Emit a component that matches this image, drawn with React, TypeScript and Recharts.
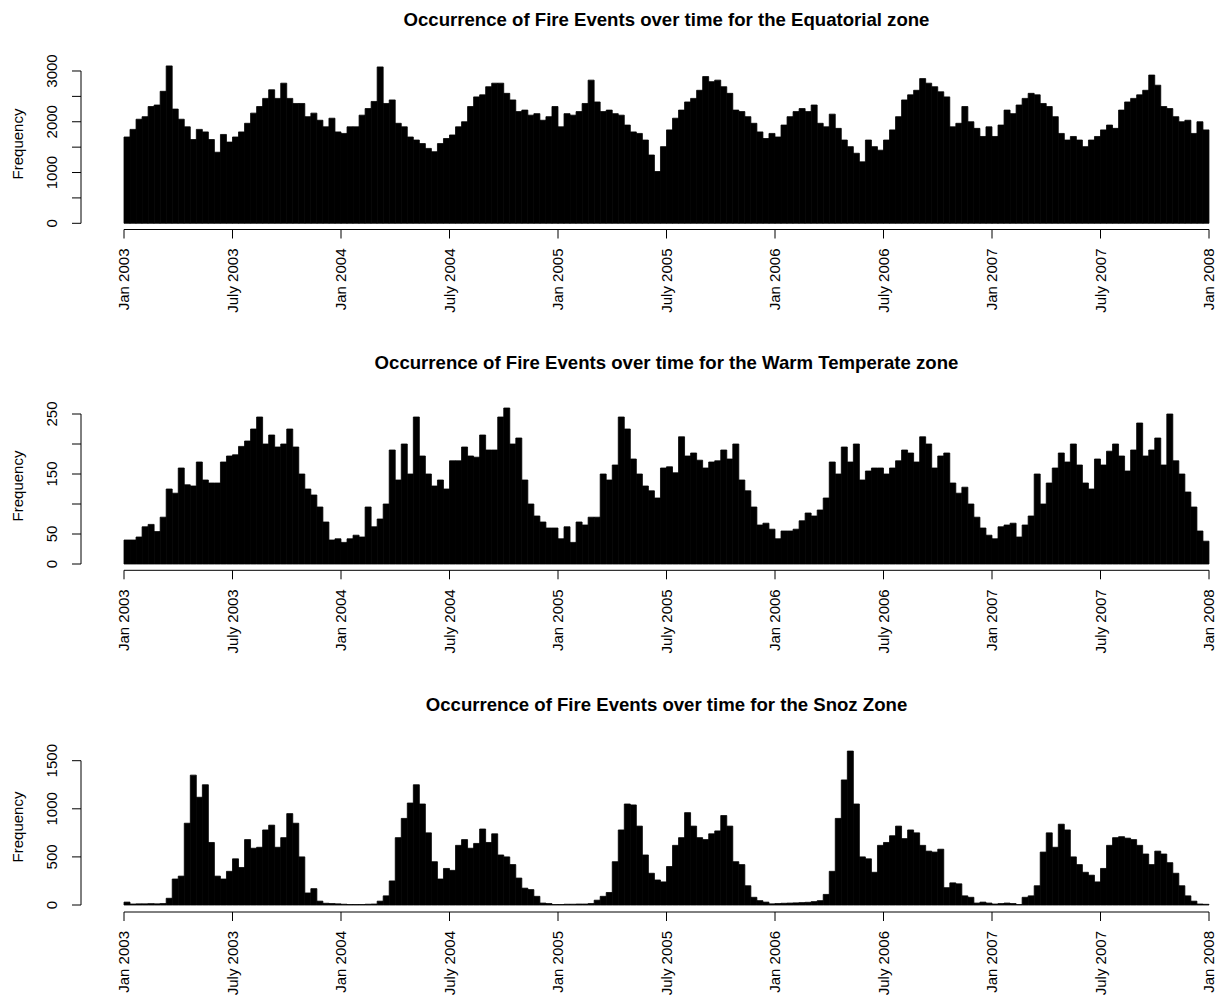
import { BarChart, Bar, XAxis, YAxis } from "recharts";

// 10-day bins, Jan 2003 .. Dec 2007 (36 per year, 180 per zone)
const X_TICK_MONTHS = [0, 6, 12, 18, 24, 30, 36, 42, 48, 54, 60];
const X_TICK_LABELS = ["Jan 2003", "July 2003", "Jan 2004", "July 2004", "Jan 2005", "July 2005",
  "Jan 2006", "July 2006", "Jan 2007", "July 2007", "Jan 2008"];

const EQUATORIAL = [
  1700, 1850, 2050, 2100, 2300, 2330, 2600, 3100, 2250, 2050, 1900, 1650, 1850, 1800, 1650, 1400, 1750, 1600,
  1700, 1800, 1970, 2170, 2300, 2460, 2630, 2460, 2760, 2460, 2360, 2360, 2100, 2170, 2030, 1900, 2070, 1800,
  1770, 1900, 1900, 2130, 2260, 2400, 3080, 2360, 2430, 1970, 1900, 1700, 1640, 1570, 1475, 1410, 1570, 1670,
  1740, 1900, 2000, 2300, 2490, 2530, 2690, 2760, 2760, 2560, 2430, 2200, 2230, 2130, 2160, 2030, 2100, 2300,
  1900, 2160, 2130, 2200, 2360, 2820, 2390, 2200, 2230, 2160, 2130, 1935, 1800, 1770, 1640, 1345, 1020, 1510,
  1840, 2070, 2230, 2390, 2460, 2620, 2890, 2790, 2820, 2690, 2560, 2230, 2200, 2100, 1970, 1800, 1670, 1770,
  1700, 1935, 2100, 2200, 2260, 2200, 2330, 1970, 1900, 2150, 1870, 1640, 1510, 1380, 1210, 1640, 1510, 1440,
  1640, 1840, 2100, 2430, 2530, 2620, 2850, 2760, 2690, 2590, 2490, 1900, 1970, 2300, 2000, 1870, 1710, 1900,
  1710, 1935, 2230, 2160, 2330, 2460, 2560, 2530, 2360, 2300, 2100, 1770, 1640, 1710, 1640, 1510, 1640, 1710,
  1840, 1935, 1870, 2230, 2390, 2460, 2530, 2620, 2920, 2720, 2300, 2260, 2100, 2000, 2030, 1770, 2000, 1840,
];

const WARM_TEMPERATE = [
  40, 40, 45, 62, 66, 54, 78, 125, 118, 160, 132, 130, 170, 140, 135, 135, 170, 180,
  182, 196, 205, 225, 245, 200, 215, 195, 200, 225, 195, 150, 125, 115, 95, 70, 40, 42,
  36, 42, 48, 45, 95, 62, 75, 100, 190, 140, 200, 150, 245, 180, 150, 130, 140, 125,
  172, 172, 195, 180, 178, 215, 190, 190, 245, 260, 200, 210, 140, 100, 80, 70, 60, 60,
  42, 62, 36, 70, 65, 78, 78, 150, 140, 165, 245, 225, 175, 150, 130, 122, 110, 160,
  162, 152, 212, 180, 185, 173, 160, 170, 172, 190, 175, 200, 140, 122, 95, 65, 68, 58,
  42, 55, 55, 58, 72, 85, 80, 90, 110, 170, 150, 195, 170, 200, 140, 155, 160, 160,
  150, 160, 172, 190, 185, 170, 212, 200, 160, 180, 185, 135, 118, 128, 100, 78, 60, 48,
  42, 62, 65, 68, 45, 65, 80, 150, 100, 135, 160, 185, 170, 200, 165, 135, 125, 175,
  165, 188, 200, 180, 155, 190, 235, 180, 190, 210, 165, 250, 172, 150, 120, 95, 55, 38,
];

const SNOZ = [
  30, 10, 12, 12, 14, 12, 15, 70, 270, 300, 850, 1350, 1120, 1250, 650, 300, 270, 350,
  480, 390, 680, 590, 600, 780, 830, 600, 700, 950, 850, 500, 125, 170, 40, 18, 15, 12,
  8, 5, 5, 5, 8, 10, 40, 95, 250, 700, 900, 1060, 1250, 1050, 750, 450, 270, 380,
  360, 620, 680, 590, 640, 790, 650, 740, 520, 500, 420, 280, 175, 160, 90, 20, 15, 5,
  5, 8, 8, 10, 10, 15, 50, 90, 130, 450, 780, 1050, 1040, 820, 520, 330, 260, 240,
  400, 620, 700, 960, 820, 700, 680, 740, 770, 930, 820, 450, 420, 200, 80, 45, 30, 12,
  15, 18, 20, 22, 25, 28, 35, 45, 110, 350, 900, 1300, 1600, 1050, 500, 480, 340, 620,
  650, 720, 820, 690, 780, 750, 620, 560, 550, 580, 180, 230, 220, 95, 80, 20, 30, 20,
  10, 15, 20, 15, 5, 80, 95, 200, 550, 750, 600, 840, 780, 500, 420, 340, 310, 240,
  380, 620, 700, 710, 695, 680, 620, 530, 420, 560, 530, 440, 330, 200, 95, 40, 10, 7,
];

const EQ_TICKS = [0, 500, 1000, 1500, 2000, 2500, 3000];
const EQ_LABELS = [0, 1000, 2000, 3000];
const WT_TICKS = [0, 50, 100, 150, 200, 250];
const WT_LABELS = [0, 50, 150, 250];
const SN_TICKS = [0, 500, 1000, 1500];
const SN_LABELS = [0, 500, 1000, 1500];

const W = 1216;
const H = 996;
const PLOT_LEFT = 124;
const PLOT_RIGHT = 1209;
const YAXIS_X = 81;
const FONT = "'Liberation Sans', Arial, Helvetica, sans-serif";

const toRows = (values: number[]) => values.map((v, i) => ({ bin: i, month: i / 3, v }));

interface PanelProps {
  title: string;
  values: number[];
  yTicks: number[];
  yLabels: number[];
  bandTop: number;
  bandH: number;
  titleY: number;
  top: number;     // plot region top (page px)
  zeroY: number;   // y of value 0
  axisY: number;   // x axis line
  k: number;       // px per unit
}

function Panel({ title, values, yTicks, yLabels, bandTop, bandH, titleY, top, zeroY, axisY, k }: PanelProps) {
  const dmax = (zeroY - top) / k;
  const dmin = -(axisY - zeroY) / k;
  const axisLen = yTicks[yTicks.length - 1] * k;
  const rows = toRows(values);

  const YTick = (p: any) => {
    const { y, payload } = p;
    const v = payload.value;
    return (
      <g>
        <line x1={YAXIS_X} x2={YAXIS_X - 9} y1={y} y2={y} stroke="#000" />
        {v === 0 && <line x1={YAXIS_X} x2={YAXIS_X} y1={y} y2={y - axisLen} stroke="#000" />}
        {yLabels.includes(v) && (
          <text transform={`translate(52,${y}) rotate(-90)`} textAnchor="middle" dy="0.35em"
            fontSize={15} fontFamily={FONT} fill="#000">{v}</text>
        )}
      </g>
    );
  };

  const XTick = (p: any) => {
    const { x, y, payload } = p;
    const label = X_TICK_LABELS[X_TICK_MONTHS.indexOf(payload.value)];
    return (
      <text transform={`translate(${x},${y}) rotate(-90)`} textAnchor="end" dy="0.35em"
        fontSize={15} fontFamily={FONT} fill="#000">{label}</text>
    );
  };

  return (
    <>
      <div style={{
        position: "absolute", left: PLOT_LEFT, width: PLOT_RIGHT - PLOT_LEFT, top: titleY - 11,
        lineHeight: "22px", textAlign: "center", fontWeight: "bold", fontSize: 18.6, fontFamily: FONT, color: "#000",
      }}>{title}</div>
      <div style={{
        position: "absolute", left: 17, top: (top + axisY) / 2, transform: "translate(-50%, -50%) rotate(-90deg)",
        whiteSpace: "nowrap", lineHeight: 1, fontSize: 15, fontFamily: FONT, color: "#000",
      }}>Frequency</div>
      <div style={{ position: "absolute", left: 0, top: bandTop }}>
        <BarChart width={W} height={bandH} data={rows} barCategoryGap={0} barGap={0}
          margin={{ top: top - bandTop, right: W - PLOT_RIGHT, bottom: 0, left: 0 }}>
          <XAxis xAxisId="bins" dataKey="bin" type="category" hide height={0} />
          <XAxis xAxisId="time" dataKey="month" type="number" domain={[0, 60]} allowDataOverflow
            ticks={X_TICK_MONTHS} interval={0} height={bandTop + bandH - axisY}
            tickSize={9} tickMargin={10} axisLine={{ stroke: "#000" }} tickLine={{ stroke: "#000" }}
            tick={(p: any) => <XTick {...p} />} />
          <YAxis width={PLOT_LEFT} domain={[dmin, dmax]} allowDataOverflow ticks={yTicks} interval={0}
            axisLine={false} tickLine={false} tickSize={0} tickMargin={0}
            tick={(p: any) => <YTick {...p} />} />
          <Bar xAxisId="bins" dataKey="v" fill="#000" stroke="#000" strokeWidth={0.8} isAnimationActive={false} />
        </BarChart>
      </div>
    </>
  );
}

export default function App() {
  return (
    <div style={{ position: "absolute", left: 0, top: 0, width: W, height: H, background: "#fff", overflow: "hidden" }}>
      <Panel title="Occurrence of Fire Events over time for the Equatorial zone" values={EQUATORIAL}
        yTicks={EQ_TICKS} yLabels={EQ_LABELS} bandTop={0} bandH={335} titleY={20}
        top={58.3} zeroY={223.3} axisY={229.5} k={0.05077} />
      <Panel title="Occurrence of Fire Events over time for the Warm Temperate zone" values={WARM_TEMPERATE}
        yTicks={WT_TICKS} yLabels={WT_LABELS} bandTop={335} bandH={340} titleY={363}
        top={400.8} zeroY={564} axisY={570.3} k={0.6} />
      <Panel title="Occurrence of Fire Events over time for the Snoz Zone" values={SNOZ}
        yTicks={SN_TICKS} yLabels={SN_LABELS} bandTop={675} bandH={321} titleY={705}
        top={741.5} zeroY={905} axisY={912} k={0.0962} />
    </div>
  );
}
